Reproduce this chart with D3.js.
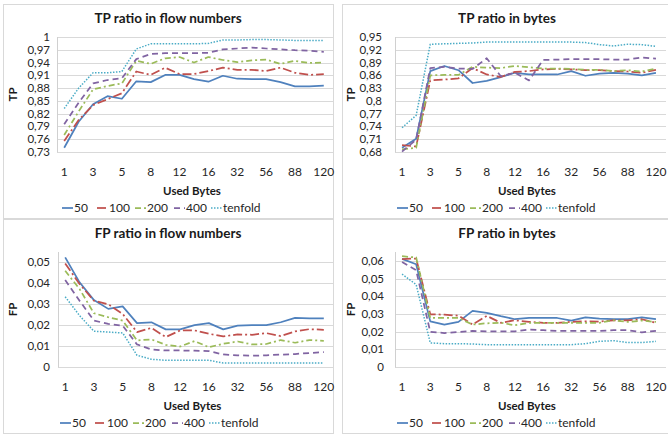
<!DOCTYPE html>
<html>
<head>
<meta charset="utf-8">
<script src="https://cdn.jsdelivr.net/npm/d3@7/dist/d3.min.js"></script>
<style>
  html, body { margin: 0; padding: 0; background: #fff; }
  svg { display: block; font-family: Lato, "Open Sans", sans-serif; }
</style>
</head>
<body>
<svg id="chart" width="668" height="437"></svg>
<script>
// Byte counts used for classification (every other one is labelled on the axis)
const categories = ["1","2","3","4","5","6","8","10","12","14","16","24","32","40","56","72","88","104","120"];
const shownLabels = ["1","3","5","8","12","16","32","56","88","120"];
const seriesNames = ["50","100","200","400","tenfold"];

// TP ratio in flow numbers
const tpFlow50      = [0.740,0.801,0.842,0.861,0.855,0.896,0.894,0.911,0.911,0.901,0.895,0.909,0.902,0.901,0.901,0.894,0.884,0.884,0.886];
const tpFlow100     = [0.756,0.805,0.840,0.854,0.868,0.919,0.911,0.928,0.913,0.913,0.920,0.928,0.923,0.923,0.920,0.928,0.916,0.911,0.913];
const tpFlow200     = [0.770,0.825,0.877,0.885,0.891,0.944,0.937,0.950,0.953,0.940,0.953,0.946,0.941,0.945,0.947,0.937,0.944,0.939,0.940];
const tpFlow400     = [0.795,0.846,0.891,0.899,0.903,0.948,0.960,0.962,0.962,0.962,0.963,0.971,0.973,0.975,0.973,0.971,0.969,0.968,0.965];
const tpFlowTenfold = [0.832,0.880,0.916,0.916,0.919,0.972,0.984,0.984,0.984,0.984,0.985,0.993,0.993,0.994,0.994,0.993,0.992,0.992,0.992];

// TP ratio in bytes
const tpBytes50      = [0.690,0.711,0.870,0.882,0.872,0.842,0.847,0.856,0.866,0.862,0.862,0.862,0.870,0.859,0.864,0.866,0.864,0.860,0.866];
const tpBytes100     = [0.696,0.693,0.848,0.850,0.853,0.877,0.862,0.856,0.868,0.870,0.874,0.875,0.874,0.872,0.872,0.870,0.869,0.866,0.873];
const tpBytes200     = [0.686,0.690,0.860,0.861,0.861,0.880,0.878,0.877,0.882,0.879,0.876,0.876,0.875,0.873,0.873,0.870,0.872,0.869,0.876];
const tpBytes400     = [0.681,0.709,0.877,0.880,0.876,0.875,0.900,0.858,0.866,0.848,0.896,0.897,0.898,0.898,0.898,0.897,0.897,0.902,0.899];
const tpBytesTenfold = [0.737,0.766,0.933,0.934,0.935,0.936,0.938,0.938,0.938,0.938,0.938,0.938,0.938,0.937,0.932,0.929,0.933,0.932,0.928];

// FP ratio in flow numbers
const fpFlow50      = [0.0524,0.0405,0.0320,0.0278,0.0290,0.0210,0.0214,0.0180,0.0180,0.0200,0.0210,0.0180,0.0198,0.0200,0.0200,0.0214,0.0235,0.0233,0.0232];
const fpFlow100     = [0.0495,0.0397,0.0317,0.0300,0.0254,0.0167,0.0187,0.0143,0.0175,0.0175,0.0159,0.0146,0.0156,0.0154,0.0162,0.0148,0.0170,0.0181,0.0178];
const fpFlow200     = [0.0460,0.0373,0.0257,0.0238,0.0222,0.0127,0.0132,0.0106,0.0098,0.0124,0.0095,0.0111,0.0122,0.0108,0.0110,0.0129,0.0116,0.0129,0.0125];
const fpFlow400     = [0.0416,0.0317,0.0222,0.0206,0.0198,0.0108,0.0084,0.0079,0.0079,0.0078,0.0076,0.0060,0.0056,0.0054,0.0056,0.0059,0.0062,0.0067,0.0071];
const fpFlowTenfold = [0.0336,0.0246,0.0171,0.0167,0.0163,0.0056,0.0037,0.0032,0.0032,0.0032,0.0032,0.0019,0.0019,0.0019,0.0019,0.0019,0.0019,0.0019,0.0019];

// FP ratio in bytes
const fpBytes50      = [0.0611,0.0581,0.0258,0.0240,0.0255,0.0317,0.0306,0.0287,0.0270,0.0277,0.0277,0.0277,0.0262,0.0281,0.0274,0.0270,0.0270,0.0280,0.0270];
const fpBytes100     = [0.0610,0.0613,0.0298,0.0296,0.0290,0.0240,0.0289,0.0250,0.0264,0.0255,0.0250,0.0250,0.0255,0.0258,0.0257,0.0264,0.0264,0.0270,0.0250];
const fpBytes200     = [0.0626,0.0619,0.0277,0.0277,0.0277,0.0240,0.0247,0.0250,0.0236,0.0249,0.0250,0.0250,0.0249,0.0249,0.0250,0.0264,0.0255,0.0262,0.0255];
const fpBytes400     = [0.0594,0.0547,0.0198,0.0192,0.0198,0.0204,0.0202,0.0202,0.0202,0.0211,0.0208,0.0204,0.0204,0.0204,0.0204,0.0208,0.0208,0.0196,0.0204];
const fpBytesTenfold = [0.0525,0.0466,0.0136,0.0132,0.0132,0.0130,0.0126,0.0126,0.0126,0.0126,0.0126,0.0126,0.0126,0.0132,0.0145,0.0149,0.0138,0.0138,0.0145];

// Y axis ticks
const tpFlowTicks  = [0.73,0.76,0.79,0.82,0.85,0.88,0.91,0.94,0.97,1];
const tpBytesTicks = [0.68,0.71,0.74,0.77,0.8,0.83,0.86,0.89,0.92,0.95];
const fpFlowTicks  = [0,0.01,0.02,0.03,0.04,0.05];
const fpBytesTicks = [0,0.01,0.02,0.03,0.04,0.05,0.06];

// Series appearance (Office palette, one dash style per series)
const colors = ["#4F81BD","#C0504D","#9BBB59","#8064A2","#4BACC6"];
const dashes = [null, "9,3,2,3", "6,3,2,3", "6,4", "1.5,1.5"];
const widths = [1.75, 1.75, 1.75, 1.75, 1.5];
// horizontal offset of each legend entry from the legend start
const legendOffsets = [0, 35, 73, 112, 149];

const panels = [
  { title: "TP ratio in flow numbers", yTitle: "TP", x0: 3,   y0: 4,   data: [tpFlow50,tpFlow100,tpFlow200,tpFlow400,tpFlowTenfold],
    ticks: tpFlowTicks, domain: [0.73, 1], plotLeft: 54, plotRight: 328, labelRight: 47, yTitleX: 10, legendX: 59 },
  { title: "TP ratio in bytes", yTitle: "TP", x0: 342, y0: 4, data: [tpBytes50,tpBytes100,tpBytes200,tpBytes400,tpBytesTenfold],
    ticks: tpBytesTicks, domain: [0.68, 0.95], plotLeft: 53, plotRight: 321, labelRight: 40, yTitleX: 9, legendX: 55 },
  { title: "FP ratio in flow numbers", yTitle: "FP", x0: 3, y0: 219, data: [fpFlow50,fpFlow100,fpFlow200,fpFlow400,fpFlowTenfold],
    ticks: fpFlowTicks, domain: [0, 0.055], plotLeft: 55, plotRight: 328, labelRight: 47, yTitleX: 10, legendX: 57 },
  { title: "FP ratio in bytes", yTitle: "FP", x0: 342, y0: 219, data: [fpBytes50,fpBytes100,fpBytes200,fpBytes400,fpBytesTenfold],
    ticks: fpBytesTicks, domain: [0, 0.065], plotLeft: 53, plotRight: 321, labelRight: 42, yTitleX: 9, legendX: 55 }
];

const svg = d3.select("#chart");
const fmt = v => String(v).replace(".", ",");
const plotTop = 33, plotBottom = 148;
const panelW = 330, panelH = 214;

panels.forEach(p => {
  const g = svg.append("g").attr("transform", `translate(${p.x0},${p.y0})`);

  g.append("rect")
    .attr("x", 0.5).attr("y", 0.5).attr("width", panelW).attr("height", panelH)
    .attr("fill", "#fff").attr("stroke", "#D9D9D9");

  const x = d3.scaleBand().domain(categories).range([p.plotLeft, p.plotRight]).padding(0);
  const y = d3.scaleLinear().domain(p.domain).range([plotBottom, plotTop]);
  const cx = c => x(c) + x.bandwidth() / 2;

  // gridlines
  g.append("g").selectAll("line").data(p.ticks).join("line")
    .attr("x1", p.plotLeft).attr("x2", p.plotRight + 3)
    .attr("y1", d => Math.round(y(d)) + 0.5).attr("y2", d => Math.round(y(d)) + 0.5)
    .attr("stroke", "#D9D9D9").attr("stroke-width", 1);

  // value axis line
  g.append("line")
    .attr("x1", p.plotLeft + 0.5).attr("x2", p.plotLeft + 0.5)
    .attr("y1", plotTop).attr("y2", Math.round(y(p.domain[0])) + 0.5)
    .attr("stroke", "#D0D0D0");

  // y tick labels
  g.append("g").selectAll("text").data(p.ticks).join("text")
    .attr("x", p.labelRight).attr("y", d => y(d))
    .attr("dy", "0.35em").attr("text-anchor", "end")
    .attr("font-size", 11.5).attr("fill", "#262626")
    .text(fmt);

  // x tick labels
  g.append("g").selectAll("text").data(shownLabels).join("text")
    .attr("x", d => cx(d)).attr("y", 172)
    .attr("text-anchor", "middle")
    .attr("font-size", 12).attr("fill", "#262626")
    .text(d => d);

  // chart title
  g.append("text").attr("x", 165).attr("y", 19)
    .attr("text-anchor", "middle").attr("font-size", 13.5).attr("font-weight", "bold")
    .attr("fill", "#1a1a1a").text(p.title);

  // axis titles
  g.append("text").attr("x", (p.plotLeft + p.plotRight) / 2 - 2).attr("y", 191)
    .attr("text-anchor", "middle").attr("font-size", 11.5).attr("font-weight", "bold")
    .attr("fill", "#1a1a1a").text("Used Bytes");
  g.append("text")
    .attr("transform", `translate(${p.yTitleX},${(plotTop + plotBottom) / 2}) rotate(-90)`)
    .attr("dy", "0.35em").attr("text-anchor", "middle")
    .attr("font-size", 11.5).attr("font-weight", "bold").attr("fill", "#1a1a1a")
    .text(p.yTitle);

  // series lines
  const line = d3.line().x((d, i) => cx(categories[i])).y(d => y(d));
  p.data.forEach((vals, s) => {
    g.append("path").datum(vals)
      .attr("d", line)
      .attr("fill", "none")
      .attr("stroke", colors[s])
      .attr("stroke-width", widths[s])
      .attr("stroke-dasharray", dashes[s])
      .attr("stroke-linejoin", "round");
  });

  // legend
  const lg = g.append("g").attr("transform", `translate(${p.legendX},204)`);
  seriesNames.forEach((name, s) => {
    const lx = legendOffsets[s];
    lg.append("line").attr("x1", lx).attr("x2", lx + 11).attr("y1", 0).attr("y2", 0)
      .attr("stroke", colors[s]).attr("stroke-width", widths[s])
      .attr("stroke-dasharray", dashes[s]);
    lg.append("text").attr("x", lx + 12).attr("y", 0).attr("dy", "0.35em")
      .attr("font-size", 12).attr("fill", "#262626").text(name);
  });
});
</script>
</body>
</html>
